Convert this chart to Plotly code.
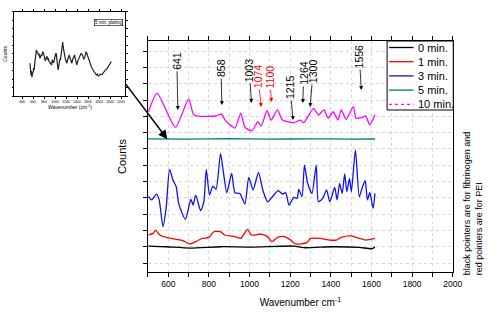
import plotly.graph_objects as go

# ---------------- main spectra data ----------------
x_black = [502, 590, 706, 860, 1009, 1218, 1266, 1411, 1540, 1604, 1617]
y_black = [1.04, 1.00, 0.92, 1.00, 0.98, 1.04, 0.94, 1.00, 0.96, 0.88, 1.00]

x_red = [502, 526, 537, 558, 590, 639, 671, 706, 735, 767, 800, 824, 856, 877, 928, 957,
         990, 1009, 1057, 1089, 1109, 1138, 1170, 1202, 1226, 1282, 1299, 1347, 1395,
         1427, 1451, 1500, 1540, 1572, 1617]
y_red = [1.72, 1.82, 2.02, 1.72, 1.57, 1.45, 1.37, 1.17, 1.31, 1.51, 1.57, 1.92, 1.92, 1.72,
         1.62, 1.51, 2.07, 1.72, 1.78, 1.62, 1.31, 1.57, 1.62, 1.41, 1.17, 1.25, 1.51, 1.51,
         1.41, 1.41, 1.57, 1.66, 1.51, 1.41, 1.51]

x_blue = [502, 518, 542, 555, 574, 590, 606, 623, 639, 651, 684, 711, 722, 735, 759, 775,
          787, 803, 819, 835, 857, 872, 888, 912, 928, 952, 977, 996, 1017, 1044, 1065,
          1089, 1113, 1141, 1162, 1178, 1194, 1218, 1234, 1242, 1258, 1270, 1286, 1307,
          1328, 1339, 1360, 1379, 1395, 1419, 1431, 1443, 1456, 1468, 1479, 1492, 1501,
          1521, 1540, 1556, 1569, 1580, 1592, 1608, 1617]
y_blue = [4.07, 3.87, 4.23, 3.87, 2.23, 3.46, 5.75, 5.09, 4.68, 3.66, 2.68, 3.91, 3.56, 4.17,
          3.21, 3.76, 5.75, 4.17, 4.72, 4.52, 6.73, 5.50, 4.31, 5.50, 4.31, 4.27, 3.62, 5.26,
          4.48, 5.56, 4.48, 3.76, 4.07, 4.44, 4.23, 4.31, 3.56, 4.03, 3.97, 4.52, 4.07, 6.01,
          4.89, 4.27, 6.01, 3.76, 3.97, 4.48, 3.76, 4.64, 3.87, 4.89, 4.27, 5.46, 4.38, 5.19,
          4.38, 6.93, 4.07, 4.68, 5.05, 3.87, 4.31, 3.35, 4.27]

x_teal = [500, 700, 900, 1100, 1300, 1500, 1617]
y_teal = [7.62, 7.60, 7.63, 7.60, 7.62, 7.60, 7.61]

x_mag = [502, 545, 635, 700, 727, 832, 861, 880, 928, 957, 977, 1012, 1041, 1057, 1086,
         1106, 1137, 1162, 1218, 1250, 1266, 1315, 1339, 1366, 1387, 1411, 1435, 1451,
         1475, 1511, 1524, 1556, 1572, 1591, 1617]
y_mag = [9.28, 10.41, 8.33, 10.06, 9.08, 9.02, 9.14, 8.77, 8.28, 9.20, 8.33, 8.12, 8.67, 8.40,
         9.34, 8.77, 9.39, 8.77, 8.61, 8.77, 8.61, 9.49, 9.08, 9.39, 8.88, 9.28, 8.77, 9.39,
         8.82, 9.59, 8.88, 8.94, 9.02, 8.47, 9.10]

series_names = ["0 min.", "1 min.", "3 min.", "5 min.", "10 min."]
series_colors = ["#000000", "#FF0000", "#1010F0", "#008080", "#FF00FF"]
legend_dash = ["solid", "solid", "solid", "solid", "dot"]

# peak pointers: label, pointer position, pointer head level, text offsets (px), colour
peak_labels = ["641", "858", "1003", "1074", "1100", "1215", "1264", "1300", "1556"]
peak_x = [647, 864, 1009, 1057, 1108, 1214, 1262, 1298, 1550]
peak_y = [9.39, 9.69, 9.82, 9.57, 9.88, 8.77, 9.82, 9.57, 10.61]
peak_ax = [-1, -1, -2, -3, -2, -3, 1, 3, -2]
peak_ay = [-49, -37, -33, -31, -25, -33, -30, -36, -34]
peak_col = ["black", "black", "black", "red", "red", "black", "black", "black", "black"]

# ---------------- inset data ----------------
x_inset = [543, 548, 552, 557, 561, 566, 570, 575, 579, 590, 600, 610, 620, 630, 640, 650,
           661, 673, 685, 697, 710, 722, 735, 746, 758, 770, 781, 793, 805, 817, 830, 842,
           853, 865, 876, 890, 905, 920, 937, 948, 958, 968, 978, 988, 998, 1008, 1019,
           1028, 1037, 1046, 1055, 1066, 1077, 1088, 1098, 1109, 1120, 1130, 1139, 1148,
           1157, 1166, 1175, 1186, 1196, 1206, 1216, 1227, 1238, 1248, 1259, 1271, 1283,
           1295, 1306, 1318, 1330, 1342, 1354, 1365, 1375, 1385, 1395, 1415, 1435, 1455,
           1474, 1489, 1503, 1518, 1533, 1544, 1554, 1564, 1574, 1590, 1605, 1620, 1635,
           1658, 1680, 1703, 1725, 1740, 1755, 1770, 1784, 1807, 1830, 1852, 1873, 1896,
           1918, 1940, 1963, 1978, 1992, 2007, 2022]
y_inset = [3.89, 3.3, 3.1, 2.6, 2.5, 2.95, 2.9, 2.4, 2.23, 2.7, 2.8, 3.3, 3.1, 3.9, 4.3, 5.0,
           5.48, 5.2, 5.1, 4.85, 5.0, 4.5, 4.6, 4.9, 4.76, 5.1, 5.27, 4.9, 4.7, 4.2, 4.29,
           4.6, 4.7, 4.3, 4.49, 4.1, 4.0, 3.8, 3.69, 4.3, 4.2, 3.95, 4.08, 4.5, 4.6, 4.95,
           5.08, 4.5, 4.1, 3.4, 3.1, 3.5, 3.8, 4.4, 4.29, 4.8, 5.2, 5.9, 6.39, 5.8, 5.4, 4.9,
           4.68, 4.4, 4.2, 3.95, 3.89, 4.3, 4.5, 4.7, 4.88, 4.5, 4.3, 4.0, 3.89, 4.3, 4.5,
           4.9, 4.88, 4.5, 4.2, 3.9, 3.69, 4.2, 4.5, 4.8, 5.08, 4.9, 4.8, 4.4, 4.49, 4.7, 4.9,
           5.2, 5.15, 4.8, 4.5, 4.0, 3.89, 3.5, 3.2, 2.9, 2.71, 2.6, 2.5, 2.6, 2.38, 2.5, 2.6,
           2.55, 2.77, 2.85, 3.1, 3.2, 3.49, 3.6, 3.8, 3.9, 4.08]
inset_ticks = [400, 600, 800, 1000, 1200, 1400, 1600, 1800, 2000, 2200]

FONT = "Arial, Liberation Sans, sans-serif"
W, H = 500, 313


def px(v):
    return v / W


def py(v):
    return 1 - v / H


fig = go.Figure()
main_x = [x_black, x_red, x_blue, x_teal, x_mag]
main_y = [y_black, y_red, y_blue, y_teal, y_mag]
for xs, ys, nm, col in zip(main_x, main_y, series_names, series_colors):
    fig.add_trace(go.Scatter(x=xs, y=ys, mode="lines", name=nm, showlegend=False,
                             line=dict(color=col, width=1.3, shape="spline", smoothing=0.6),
                             xaxis="x", yaxis="y"))

fig.add_trace(go.Scatter(x=x_inset, y=y_inset, mode="lines", showlegend=False,
                         line=dict(color="#222222", width=1.2), xaxis="x2", yaxis="y2"))

annotations = []
for lab, hx, hy, ax_, ay_, col in zip(peak_labels, peak_x, peak_y, peak_ax, peak_ay, peak_col):
    annotations.append(dict(x=hx, y=hy, xref="x", yref="y", text=lab,
                            textangle=-90, showarrow=True, ax=ax_, ay=ay_,
                            arrowhead=2, arrowsize=1, arrowwidth=0.8,
                            arrowcolor=col, font=dict(family=FONT, size=10.5, color=col)))

# arrow from inset to the 5 min. trace
annotations.append(dict(x=595, y=7.6, xref="x", yref="y", text="", showarrow=True,
                        ax=-43, ay=-57, arrowhead=2, arrowsize=1.2, arrowwidth=1.5,
                        arrowcolor="black"))

# right-side note
annotations.append(dict(x=px(483), y=py(277), xref="paper", yref="paper",
                        text="black pointers are for fibrinogen and<br>red pointers are for PEI",
                        textangle=-90, showarrow=False, align="left",
                        xanchor="center", yanchor="bottom",
                        font=dict(family=FONT, size=9, color="black")))

# inset label box
annotations.append(dict(x=px(125.5), y=py(22), xref="paper", yref="paper",
                        xanchor="right", yanchor="middle",
                        text="5 min. plating", showarrow=False,
                        bordercolor="black", borderwidth=0.6, borderpad=0.5,
                        font=dict(family=FONT, size=4.5, color="black")))

# legend box (drawn as a framed key)
shapes = [dict(type="rect", xref="paper", yref="paper",
               x0=px(395), x1=px(462.5), y0=py(110), y1=py(41),
               line=dict(color="black", width=1), fillcolor="white", layer="above")]
leg_y0, leg_dy = 47.5, 14.2
for i, (nm, col, dsh) in enumerate(zip(series_names, series_colors, legend_dash)):
    yy = leg_y0 + i * leg_dy
    shapes.append(dict(type="line", xref="paper", yref="paper",
                       x0=px(397), x1=px(422), y0=py(yy), y1=py(yy),
                       line=dict(color=col, width=1.3, dash=dsh), layer="above"))
    annotations.append(dict(x=px(424), y=py(yy), xref="paper", yref="paper",
                            xanchor="left", yanchor="middle", text=nm, showarrow=False,
                            font=dict(family=FONT, size=11, color="black")))

fig.update_layout(
    width=W, height=H, autosize=False,
    margin=dict(l=0, r=0, t=0, b=0),
    paper_bgcolor="white", plot_bgcolor="white",
    font=dict(family=FONT, color="black"),
    showlegend=False,
    annotations=annotations,
    shapes=shapes,
    xaxis=dict(domain=[px(151), px(462)], range=[500, 2000], anchor="y",
               tick0=0, dtick=200, ticks="outside", ticklen=4, tickcolor="black",
               showline=True, linecolor="black", linewidth=1, mirror="ticks",
               showgrid=True, gridcolor="#d8d8d8", griddash="dot", gridwidth=1,
               minor=dict(dtick=100, ticks="outside", ticklen=4, tickcolor="black",
                          showgrid=True, gridcolor="#d8d8d8", griddash="dot"),
               tickfont=dict(family=FONT, size=8.5), zeroline=False,
               title=dict(text="Wavenumber cm<sup>-1</sup>", font=dict(family=FONT, size=10),
                          standoff=10)),
    yaxis=dict(domain=[py(272), py(41)], range=[-0.55, 13.62], anchor="x",
               tick0=0, dtick=1, ticks="outside", ticklen=4, tickcolor="black",
               showticklabels=False, showline=True, linecolor="black", linewidth=1,
               mirror=True, showgrid=True, gridcolor="#d8d8d8", griddash="dot",
               zeroline=False,
               title=dict(text="Counts", font=dict(family=FONT, size=11), standoff=14)),
    xaxis2=dict(domain=[px(14.7), px(128)], range=[260, 2280], anchor="y2",
                tickvals=inset_ticks, ticks="outside", ticklen=2, tickcolor="black",
                tickangle=0,
                showline=True, linecolor="black", linewidth=0.8, mirror="ticks",
                showgrid=False, zeroline=False,
                tickfont=dict(family=FONT, size=3.5),
                title=dict(text="Wavenumber (cm<sup>-1</sup>)", font=dict(family=FONT, size=5),
                           standoff=2)),
    yaxis2=dict(domain=[py(96), py(11.7)], range=[0, 10], anchor="x2",
                dtick=1, ticks="outside", ticklen=2, tickcolor="black",
                showticklabels=False, showline=True, linecolor="black", linewidth=0.8,
                mirror="ticks", showgrid=False, zeroline=False,
                title=dict(text="Counts", font=dict(family=FONT, size=5), standoff=3)),
)

fig.write_html(
    "out.html",
    config={"displayModeBar": False, "responsive": False},
    post_script=("document.documentElement.style.margin='0px';"
                 "document.body.style.margin='0px';"
                 "document.documentElement.style.overflow='hidden';"
                 "document.body.style.overflow='hidden';"),
)
